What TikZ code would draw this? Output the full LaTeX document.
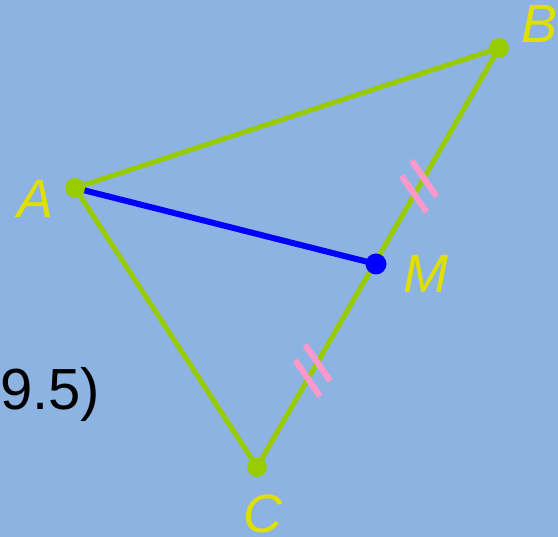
\documentclass[tikz,border=0pt]{standalone}
\usepackage{fontspec}
\setmainfont{Liberation Sans}
\usetikzlibrary{calc}
\definecolor{bgblue}{HTML}{8DB3E2}
\definecolor{sidegreen}{HTML}{99CC00}
\definecolor{tickpink}{HTML}{FF99CC}
\definecolor{labelyellow}{HTML}{E0E000}
\definecolor{medblue}{HTML}{0000FF}
\tikzset{
  vertex/.style={circle,fill=sidegreen,inner sep=0pt,minimum size=20pt},
  midpt/.style={circle,fill=medblue,inner sep=0pt,minimum size=21pt},
  side/.style={sidegreen,line width=5pt},
  median/.style={medblue,line width=6pt},
  tick/.style={tickpink,line width=6pt},
  ptlabel/.style={anchor=base west,inner sep=0pt,text=labelyellow,font=\fontsize{54}{54}\selectfont\itshape}
}

\begin{document}
\begin{tikzpicture}[x=1pt,y=-1pt]
  \useasboundingbox (0,0) rectangle (558,537);
  \fill[bgblue] (0,0) rectangle (558,537);

  \coordinate (a) at (75,188);
  \coordinate (b) at (499,48);
  \coordinate (c) at (257,467);
  \coordinate (m) at (376,264);

  % sides and median
  \draw[side] (a) -- (b);
  \draw[side] (b) -- (c);
  \draw[side] (c) -- (a);
  \draw[median] (a) -- (m);

  % equal-length marks
  \path (b) -- (c) coordinate[pos=0.33] (t1) coordinate[pos=0.77] (t2);
  \foreach \t in {t1,t2}{
    \draw[tick] ($(\t)+(5,-7.75)+(-12.5,-18)$) -- ($(\t)+(5,-7.75)+(12.5,18)$);
    \draw[tick] ($(\t)+(-5,7.75)+(-12.5,-18)$) -- ($(\t)+(-5,7.75)+(12.5,18)$);
  }

  \node[vertex] (A) at (a) {};
  \node[vertex] (B) at (b) {};
  \node[vertex] (C) at (c) {};
  \node[midpt] (M) at (m) {};

  \node[ptlabel] (lA) at (17,218) {A};
  \node[ptlabel] (lB) at (521,43) {B};
  \node[ptlabel] (lM) at (403,293) {M};
  \node[ptlabel] (lC) at (243,533) {C};
  \node[anchor=base west,inner sep=0pt,font=\fontsize{58}{58}\selectfont] (cut) at (0,410) {9.5)};
\end{tikzpicture}
\end{document}
